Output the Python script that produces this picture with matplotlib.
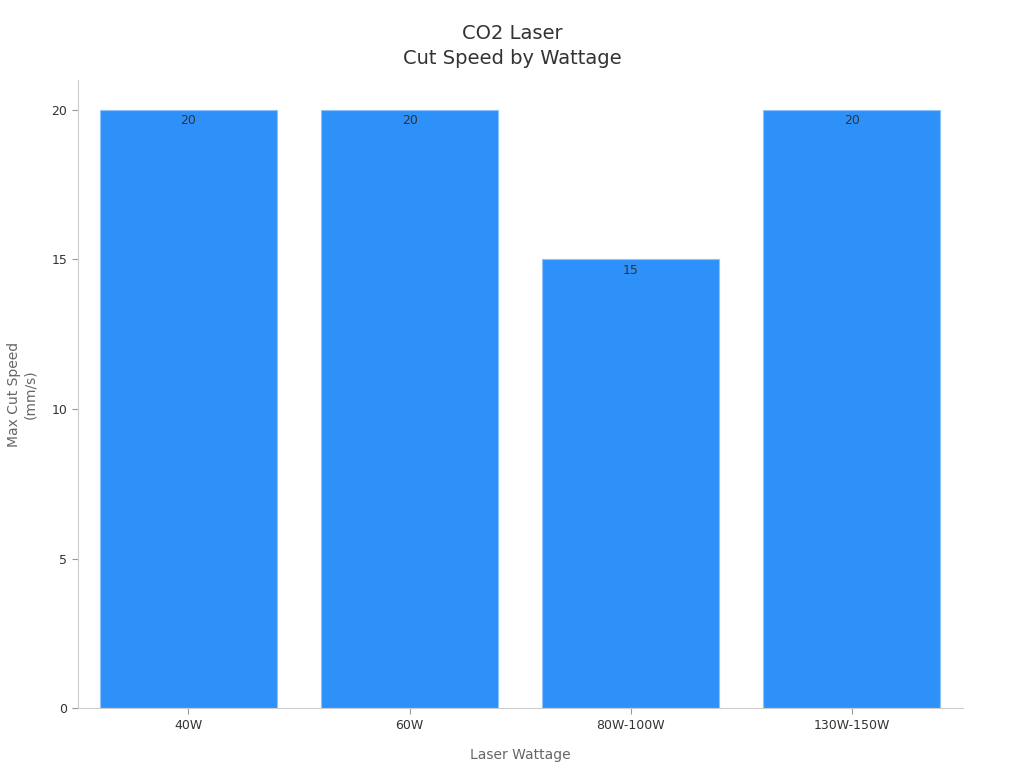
import matplotlib
matplotlib.use("Agg")
import matplotlib.pyplot as plt

categories = ["40W", "60W", "80W-100W", "130W-150W"]
speeds = [20, 20, 15, 20]

fig = plt.figure(figsize=(10.24, 7.68), dpi=100)
ax = fig.add_axes([0.076, 0.078, 0.864, 0.818])
bars = ax.bar(range(len(categories)), speeds, width=0.8, color="#2E91FA",
              edgecolor="#8EC3FA", linewidth=0.8)
for b, v in zip(bars, speeds):
    ax.text(b.get_x() + b.get_width() / 2, v - 0.15, str(v), ha="center", va="top",
            fontsize=9, color="#333333")
ax.set_xlim(-0.5, 3.5)
ax.set_ylim(0, 21)
ax.set_xticks(range(len(categories)))
ax.set_xticklabels(categories)
ax.set_yticks([0, 5, 10, 15, 20])
ax.tick_params(labelsize=9, colors="#333333")
ax.tick_params(axis="both", color="#999999", length=4)
for s in ["top", "right"]:
    ax.spines[s].set_visible(False)
for s in ["left", "bottom"]:
    ax.spines[s].set_color("#cccccc")
ax.set_xlabel("Laser Wattage", fontsize=10, color="#666666", labelpad=12)
ax.set_ylabel("Max Cut Speed\n(mm/s)", fontsize=10, color="#666666", labelpad=10)
fig.text(0.5, 1 - 46 / 768, "CO2 Laser\nCut Speed by Wattage", fontsize=14, color="#333333",
         ha="center", va="center", linespacing=1.4)
fig.savefig("out.png", dpi=100)
